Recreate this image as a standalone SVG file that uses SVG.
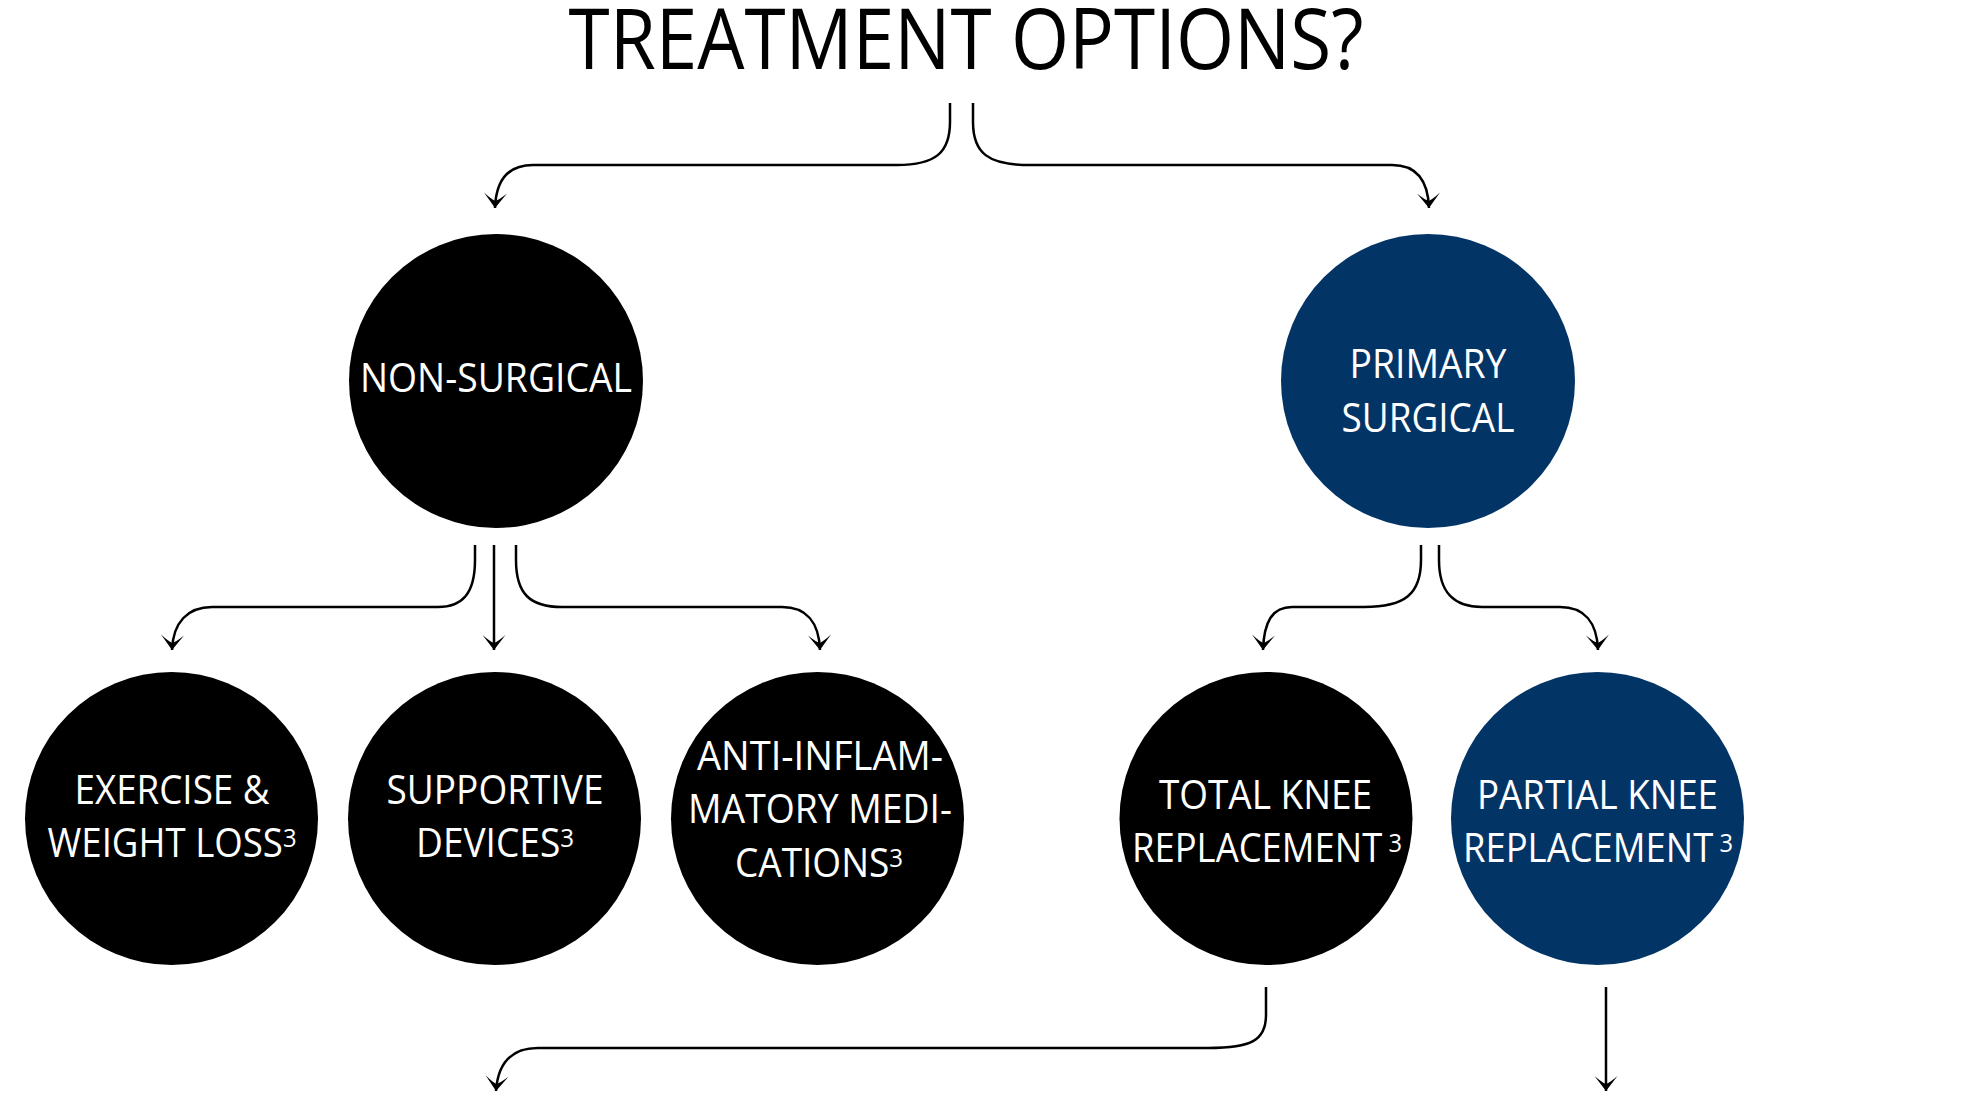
<svg xmlns="http://www.w3.org/2000/svg" width="1987" height="1102" viewBox="0 0 1987 1102">
<defs>
<style>
.title{font-family:"Open Sans","Liberation Sans",sans-serif;font-size:85px;font-weight:500;fill:#000;text-anchor:middle}
.lbl{font-family:"Open Sans","Liberation Sans",sans-serif;font-size:40px;fill:#fff;text-anchor:middle}
.sup{font-size:26px}
.blk{fill:#000}
.navy{fill:#033466}
.con{fill:none;stroke:#000;stroke-width:2.5;marker-end:url(#arr)}
</style>
<marker id="arr" markerUnits="userSpaceOnUse" markerWidth="24" markerHeight="26" viewBox="-16 -13 18 26" refX="0" refY="0" orient="auto">
<path d="M0,0 L-15,-11.5 Q-8.5,-4 -7,0 Q-8.5,4 -15,11.5 Z" fill="#000"/>
</marker>
</defs>
<rect width="1987" height="1102" fill="#fff"/>
<text id="title" class="title" x="966" y="69" textLength="795" lengthAdjust="spacingAndGlyphs">TREATMENT OPTIONS?</text>
<g id="connectors">
<path class="con" d="M950,103 V122 C950,153 935,165 897,165 H533 C508,165 496,180 495,208"/>
<path class="con" d="M973,103 V122 C973,153 988,165 1029,165 H1392 C1416,165 1428,180 1429,208"/>
<path class="con" d="M475,545 V560 C475,594 462,607 438,607 H212 C188,607 173,622 172,650"/>
<path class="con" d="M494,545 V650"/>
<path class="con" d="M516,545 V560 C516,594 530,607 562,607 H782 C806,607 819,622 820,650"/>
<path class="con" d="M1421,545 V560 C1421,594 1405,607 1364,607 H1292 C1272,607 1264,622 1263,650"/>
<path class="con" d="M1439,545 V560 C1439,594 1455,607 1482,607 H1560 C1584,607 1597,622 1598,650"/>
<path class="con" d="M1266,987 V1015 C1266,1040 1252,1048 1208,1048 H538 C512,1048 498,1062 496,1091"/>
<path class="con" d="M1606,987 V1091"/>
</g>
<g id="non-surgical">
<circle class="blk" cx="496" cy="381" r="147"/>
<text class="lbl" x="496" y="392" textLength="272" lengthAdjust="spacingAndGlyphs">NON-SURGICAL</text>
</g>
<g id="primary-surgical">
<circle class="navy" cx="1428" cy="381" r="147"/>
<text class="lbl" x="1428" y="378" textLength="157" lengthAdjust="spacingAndGlyphs">PRIMARY</text>
<text class="lbl" x="1428" y="432" textLength="173" lengthAdjust="spacingAndGlyphs">SURGICAL</text>
</g>
<g id="exercise">
<circle class="blk" cx="171.5" cy="818.5" r="146.5"/>
<text class="lbl" x="172" y="804" textLength="195" lengthAdjust="spacingAndGlyphs">EXERCISE &amp;</text>
<text class="lbl" x="172" y="857" textLength="249" lengthAdjust="spacingAndGlyphs">WEIGHT LOSS<tspan class="sup" dy="-10">3</tspan></text>
</g>
<g id="supportive">
<circle class="blk" cx="494.5" cy="818.5" r="146.5"/>
<text class="lbl" x="495" y="804" textLength="217" lengthAdjust="spacingAndGlyphs">SUPPORTIVE</text>
<text class="lbl" x="495" y="857" textLength="158" lengthAdjust="spacingAndGlyphs">DEVICES<tspan class="sup" dy="-10">3</tspan></text>
</g>
<g id="anti-inflammatory">
<circle class="blk" cx="817.5" cy="818.5" r="146.5"/>
<text class="lbl" x="820" y="770" textLength="246" lengthAdjust="spacingAndGlyphs">ANTI-INFLAM-</text>
<text class="lbl" x="820" y="823" textLength="264" lengthAdjust="spacingAndGlyphs">MATORY MEDI-</text>
<text class="lbl" x="819" y="877" textLength="168" lengthAdjust="spacingAndGlyphs">CATIONS<tspan class="sup" dy="-10">3</tspan></text>
</g>
<g id="total-knee">
<circle class="blk" cx="1266" cy="818.5" r="146.5"/>
<text class="lbl" x="1265.5" y="809" textLength="213" lengthAdjust="spacingAndGlyphs">TOTAL KNEE</text>
<text class="lbl" x="1267" y="862" textLength="270" lengthAdjust="spacingAndGlyphs">REPLACEMENT<tspan class="sup" dy="-10"> 3</tspan></text>
</g>
<g id="partial-knee">
<circle class="navy" cx="1597.5" cy="818.5" r="146.5"/>
<text class="lbl" x="1597.5" y="809" textLength="241" lengthAdjust="spacingAndGlyphs">PARTIAL KNEE</text>
<text class="lbl" x="1598" y="862" textLength="270" lengthAdjust="spacingAndGlyphs">REPLACEMENT<tspan class="sup" dy="-10"> 3</tspan></text>
</g>
</svg>
